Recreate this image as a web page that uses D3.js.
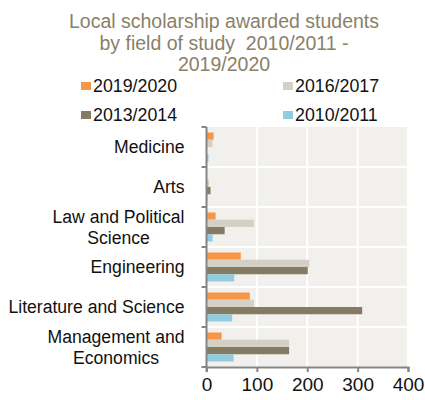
<!DOCTYPE html>
<html><head><meta charset="utf-8">
<script src="https://cdn.jsdelivr.net/npm/d3@7"></script>
<style>
html,body{margin:0;padding:0;background:#fff;}
text{font-family:"Liberation Sans",Arial,sans-serif;}
</style></head>
<body>
<svg id="chart" width="425" height="400"></svg>
<script>
const categories = [["Medicine"],["Arts"],["Law and Political","Science"],["Engineering"],["Literature and Science"],["Management and","Economics"]];
const seriesNames = ["2019/2020","2016/2017","2013/2014","2010/2011"];
const colors = ["#f79646","#d5d0c5","#857b63","#93cddd"];
const v2019 = [14, 0, 18, 68, 86, 30];
const v2016 = [12, 5, 94, 204, 94, 164];
const v2013 = [0, 8, 36, 201, 309, 164];
const v2010 = [4, 2, 12, 55, 51, 54];
const xTicks = [0,100,200,300,400];
const titleLines = ["Local scholarship awarded students","by field of study  2010/2011 -","2019/2020"];

const values = [v2019, v2016, v2013, v2010];
const svg = d3.select("#chart");
const pL = 206.5, pR = 408, pT = 127, pB = 367;

const x = d3.scaleLinear().domain([0,400]).range([pL,pR]);
const y = d3.scaleBand().domain(d3.range(categories.length)).range([pT,pB]).padding(0);
const yi = d3.scaleBand().domain(d3.range(seriesNames.length)).range([5.5, y.bandwidth()-5.5]).padding(0);

// title
svg.append("g").selectAll("text").data(titleLines).join("text")
  .attr("x", 224).attr("y", (d,i)=>28 + i*21.5)
  .attr("text-anchor","middle").attr("font-size",19.5).attr("fill","#8b8069").style("white-space","pre").text(d=>d);

// legend
const legPos = [[81,92],[283,92],[81,121],[283,121]];
const lg = svg.append("g").selectAll("g").data(seriesNames).join("g")
  .attr("transform",(d,i)=>`translate(${legPos[i][0]},${legPos[i][1]})`);
lg.append("rect").attr("x",0).attr("y",-10).attr("width",10).attr("height",8).attr("fill",(d,i)=>colors[i]);
lg.append("text").attr("x",12).attr("y",0).attr("font-size",17.8).attr("fill","#111").text(d=>d);

// plot bg
svg.append("rect").attr("x",pL).attr("y",pT).attr("width",pR-pL).attr("height",pB-pT).attr("fill","#f2f0ec");

// gridlines
svg.append("g").selectAll("line").data(xTicks.slice(1)).join("line")
  .attr("x1",d=>x(d)).attr("x2",d=>x(d)).attr("y1",pT).attr("y2",pB)
  .attr("stroke","#fff").attr("stroke-width",2);
svg.append("g").selectAll("line").data(d3.range(1,categories.length)).join("line")
  .attr("x1",pL).attr("x2",pR).attr("y1",d=>y(d)).attr("y2",d=>y(d))
  .attr("stroke","#fff").attr("stroke-width",2);

// bars
const bg = svg.append("g").selectAll("g").data(categories).join("g")
  .attr("transform",(d,i)=>`translate(0,${y(i)})`);
bg.selectAll("rect").data((d,ci)=>values.map((s,si)=>({si, v:s[ci]}))).join("rect")
  .attr("x", x(0)).attr("y", d=>yi(d.si))
  .attr("width", d=>x(d.v)-x(0)).attr("height", yi.bandwidth())
  .attr("fill", d=>colors[d.si]);

// axes
const xAxis = d3.axisBottom(x).tickValues(xTicks).tickSize(5).tickPadding(6);
const gx = svg.append("g").attr("transform",`translate(0,${pB})`).call(xAxis);
gx.select(".domain").attr("stroke","#858585").attr("stroke-width",2);
gx.selectAll(".tick line").attr("stroke","#858585").attr("stroke-width",2);
gx.selectAll(".tick text").attr("font-size",19).attr("fill","#111").attr("font-family","Liberation Sans, Arial, sans-serif");

// left axis line and ticks at band boundaries
svg.append("line").attr("x1",pL).attr("x2",pL).attr("y1",pT).attr("y2",pB+5).attr("stroke","#858585").attr("stroke-width",2);
svg.append("g").selectAll("line").data(d3.range(0,categories.length+1)).join("line")
  .attr("x1",pL-5).attr("x2",pL).attr("y1",d=>pT+d*y.bandwidth()).attr("y2",d=>pT+d*y.bandwidth())
  .attr("stroke","#858585").attr("stroke-width",2);

// category labels
const labelRight = 184.5;
categories.forEach((lines,i)=>{
  const cy = y(i)+y.bandwidth()/2;
  const g = svg.append("g");
  const n = lines.length;
  const ts = lines.map((t,j)=>g.append("text").attr("font-size",17.6).attr("fill","#111")
    .attr("y", cy + (j-(n-1)/2)*21 + 6).text(t));
  const w = d3.max(ts, t=>t.node().getComputedTextLength());
  ts.forEach(t=>t.attr("text-anchor","middle").attr("x", labelRight - w/2));
});
</script>
</body></html>
